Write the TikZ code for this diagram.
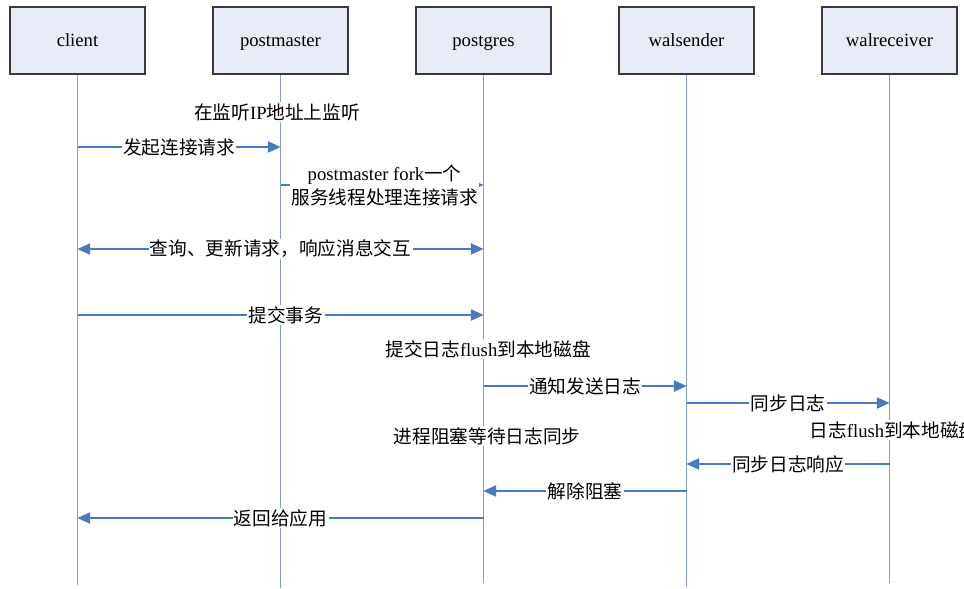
\documentclass[tikz,border=0pt]{standalone}
\usepackage{fontspec}
\setmainfont{Liberation Serif}
\newfontfamily\cjk{Noto Sans CJK SC}
\newcommand\zh[1]{{\cjk #1}}
\usetikzlibrary{arrows.meta}
\definecolor{life}{HTML}{7AA0D8}
\definecolor{arr}{HTML}{4A78C2}
\definecolor{boxfill}{HTML}{E7ECF6}
\definecolor{boxdraw}{HTML}{3A3A3A}
\begin{document}
\begin{tikzpicture}[x=0.75pt,y=-0.75pt,
  font=\fontsize{14}{18}\selectfont,
  actor/.style={draw=boxdraw, fill=boxfill, line width=0.9pt, minimum width=101.25pt, minimum height=50.25pt, inner sep=0pt, text height=11pt, text depth=2pt},
  lifeline/.style={draw=life, line width=1.2pt},
  msg/.style={draw=arr, line width=0.9pt, -{Triangle[length=9.5pt,width=8.5pt]}},
  dmsg/.style={draw=arr, line width=0.9pt, {Triangle[length=9.5pt,width=8.5pt]}-{Triangle[length=9.5pt,width=8.5pt]}},
  lbl/.style={fill=white, inner sep=1pt, text=black},
  note/.style={fill=white, inner sep=1pt, text=black}]
\useasboundingbox (0,0) rectangle (964,589);
\clip (0,0) rectangle (964,589);
% actors
\node[actor] (c)  at (77.5,40.5)  {client};
\node[actor] (pm) at (280.5,40.5) {postmaster};
\node[actor] (pg) at (483.5,40.5) {postgres};
\node[actor] (ws) at (686.5,40.5) {walsender};
\node[actor] (wr) at (889.5,40.5) {walreceiver};
% lifeline ends
\coordinate (cE)  at (77.5,585);
\coordinate (pmE) at (280.5,588);
\coordinate (pgE) at (483.5,583);
\coordinate (wsE) at (686.5,587);
\coordinate (wrE) at (889.5,583);
\draw[lifeline] (c) -- (cE);
\draw[lifeline] (pm) -- (pmE);
\draw[lifeline] (pg) -- (pgE);
\draw[lifeline] (ws) -- (wsE);
\draw[lifeline] (wr) -- (wrE);
% message end points
\coordinate (c1) at (77.5,147);  \coordinate (pm1) at (280.5,147);
\coordinate (pm2) at (280.5,185); \coordinate (pg2) at (483.5,185);
\coordinate (c3) at (77.5,249);  \coordinate (pg3) at (483.5,249);
\coordinate (c4) at (77.5,315);  \coordinate (pg4) at (483.5,315);
\coordinate (pg5) at (483.5,386); \coordinate (ws5) at (686.5,386);
\coordinate (ws6) at (686.5,403); \coordinate (wr6) at (889.5,403);
\coordinate (wr7) at (889.5,464); \coordinate (ws7) at (686.5,464);
\coordinate (ws8) at (686.5,491); \coordinate (pg8) at (483.5,491);
\coordinate (pg9) at (483.5,518); \coordinate (c9) at (77.5,518);
% notes
\node[note] (n1) at (277,112) {\zh{在监听}IP\zh{地址上监听}};
\node[note] (n2) at (488,349) {\zh{提交日志}flush\zh{到本地磁盘}};
\node[note, anchor=west] (n3) at (808,430) {\zh{日志}flush\zh{到本地磁盘}};
\node[note] (n4) at (487,436) {\zh{进程阻塞等待日志同步}};
% messages
\draw[msg] (c1) -- node[lbl] {\zh{发起连接请求}} (pm1);
\draw[msg] (pm2) -- node[lbl, align=center, xshift=2pt] {postmaster fork\zh{一个}\\\zh{服务线程处理连接请求}} (pg2);
\draw[dmsg] (c3) -- node[lbl] {\zh{查询、更新请求，响应消息交互}} (pg3);
\draw[msg] (c4) -- node[lbl, xshift=4pt] {\zh{提交事务}} (pg4);
\draw[msg] (pg5) -- node[lbl] {\zh{通知发送日志}} (ws5);
\draw[msg] (ws6) -- node[lbl] {\zh{同步日志}} (wr6);
\draw[msg] (wr7) -- node[lbl] {\zh{同步日志响应}} (ws7);
\draw[msg] (ws8) -- node[lbl] {\zh{解除阻塞}} (pg8);
\draw[msg] (pg9) -- node[lbl] {\zh{返回给应用}} (c9);
\end{tikzpicture}
\end{document}
